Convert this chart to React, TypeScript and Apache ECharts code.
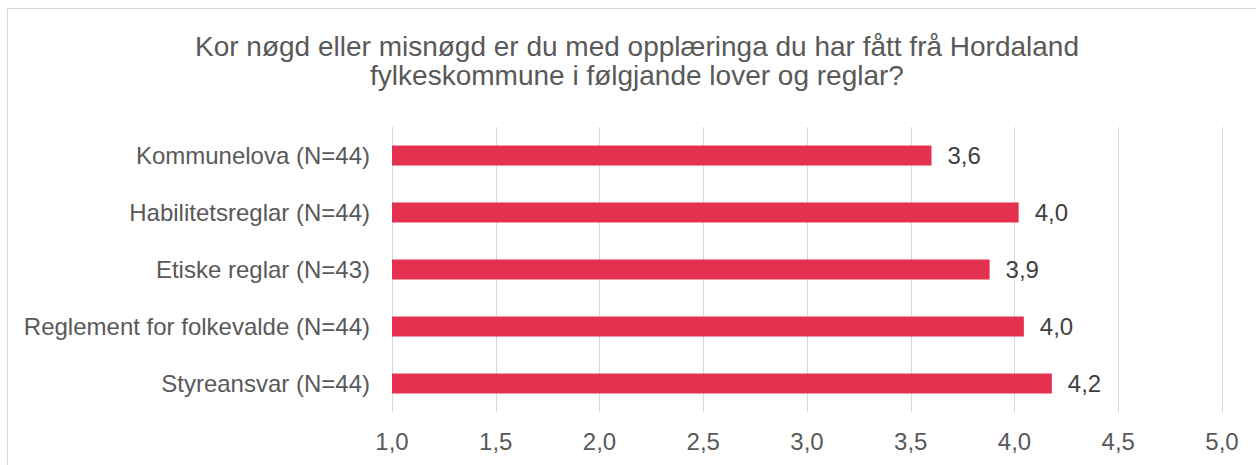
import React, { useEffect, useRef } from "react";
import * as echarts from "echarts";

const titleLines = [
  "Kor nøgd eller misnøgd er du med opplæringa du har fått frå Hordaland",
  "fylkeskommune i følgjande lover og reglar?",
];
const categories = [
  "Kommunelova (N=44)",
  "Habilitetsreglar (N=44)",
  "Etiske reglar (N=43)",
  "Reglement for folkevalde (N=44)",
  "Styreansvar (N=44)",
];
const values = [3.6, 4.02, 3.88, 4.045, 4.18];
const axisMin = 1;
const axisMax = 5;
const axisStep = 0.5;

const fmt = (v: number) => v.toFixed(1).replace(".", ",");
const FONT = "'Liberation Sans', Arial, sans-serif";

export default function App() {
  const ref = useRef<HTMLDivElement>(null);
  useEffect(() => {
    if (!ref.current) return;
    const chart = echarts.init(ref.current, null, { renderer: "svg" });
    chart.setOption({
      animation: false,
      backgroundColor: "transparent",
      title: {
        text: titleLines.join("\n"),
        left: 637,
        top: 32,
        padding: 0,
        textAlign: "center",
        textStyle: {
          fontFamily: FONT,
          fontSize: 28,
          fontWeight: "normal",
          color: "#595959",
          lineHeight: 29,
        },
      },
      grid: { left: 392, right: 34, top: 127, bottom: 53, containLabel: false },
      xAxis: {
        type: "value",
        min: axisMin,
        max: axisMax,
        interval: axisStep,
        axisLine: { show: false },
        axisTick: { show: false },
        splitLine: { show: true, lineStyle: { color: "#d9d9d9", width: 1 } },
        axisLabel: {
          margin: 17,
          fontFamily: FONT,
          fontSize: 24,
          color: "#595959",
          formatter: (v: number) => fmt(v),
        },
      },
      yAxis: {
        type: "category",
        data: categories,
        inverse: true,
        axisLine: { show: true, lineStyle: { color: "#d9d9d9", width: 1 } },
        axisTick: { show: false },
        axisLabel: {
          margin: 22,
          fontFamily: FONT,
          fontSize: 24,
          color: "#595959",
        },
      },
      series: [
        {
          type: "bar",
          data: values,
          barWidth: 20,
          itemStyle: { color: "#E4314F" },
          label: {
            show: true,
            position: "right",
            distance: 16,
            fontFamily: FONT,
            fontSize: 24,
            color: "#404040",
            formatter: (p: any) => fmt(p.value),
          },
        },
      ],
    });
    return () => chart.dispose();
  }, []);

  return (
    <div
      style={{
        position: "fixed",
        left: 0,
        top: 0,
        width: 1256,
        height: 465,
        overflow: "hidden",
        background: "#ffffff",
      }}
    >
      <div
        style={{
          position: "absolute",
          left: 7,
          top: 8,
          width: 1300,
          height: 520,
          border: "1px solid #d9d9d9",
          boxSizing: "border-box",
        }}
      />
      <div
        ref={ref}
        style={{ position: "absolute", left: 0, top: 0, width: 1256, height: 465 }}
      />
    </div>
  );
}
